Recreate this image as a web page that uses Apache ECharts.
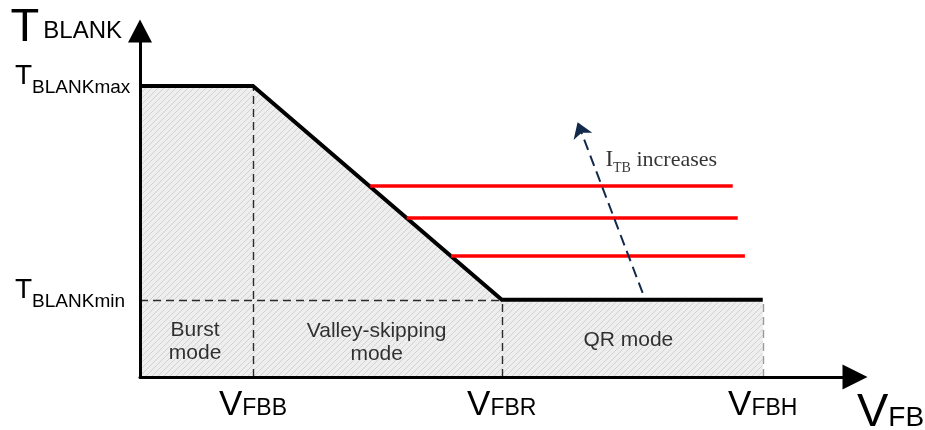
<!DOCTYPE html>
<html><head><meta charset="utf-8">
<script src="https://cdn.jsdelivr.net/npm/echarts@6/dist/echarts.min.js"></script>
<style>html,body{margin:0;padding:0;background:#fff}#c{width:925px;height:430px}</style>
</head><body><div id="c"></div>
<script>
// ---- data (schematic units: x 0..100, y 0..100) ----
const xTickValues = [15.8, 50.6, 87.1];          // VFBB, VFBR, VFBH
const xTickSubs = ['FBB', 'FBR', 'FBH'];
const yTickValues = [22.3, 84.1];                // TBLANKmin, TBLANKmax
const yTickSubs = ['BLANKmin', 'BLANKmax'];
const curveX = [0, 15.8, 50.6, 87.1];
const curveY = [84.1, 84.1, 22.3, 22.3];
const guideX1 = [15.8, 50.6, 0, 87.1];
const guideY1 = [0, 0, 22.3, 0];
const guideX2 = [15.8, 50.6, 50.6, 87.1];
const guideY2 = [84.1, 22.3, 22.3, 22.3];
const redY = [55.2, 46.0, 35.0];
const redStartX = [32.2, 37.3, 43.5];
const redEndX = [82.9, 83.6, 84.6];
const arrowFrom = [70.3, 24.3];
const arrowTo = [61.2, 73.6];
const regionNames = ['Burst\nmode', 'Valley-skipping\nmode', 'QR mode'];
const regionX = [7.7, 33.1, 68.3];
const regionY = [10.3, 9.8, 10.5];
const noteParts = ['I', 'TB', ' increases'];
const notePos = [72.9, 62.7];
const yAxisTitle = ['T', 'BLANK'];
const xAxisTitle = ['V', 'FB'];

// ---- hatch pattern ----
const pc = document.createElement('canvas');
pc.width = 6; pc.height = 6;
const g = pc.getContext('2d');
g.fillStyle = '#eeeeee'; g.fillRect(0, 0, 6, 6);
g.strokeStyle = '#d2d2d2'; g.lineWidth = 1;
g.beginPath();
g.moveTo(0, 6); g.lineTo(6, 0);
g.moveTo(-3, 3); g.lineTo(3, -3);
g.moveTo(3, 9); g.lineTo(9, 3);
g.stroke();

const SANS = "'Liberation Sans', Arial, sans-serif";
const NARROW = "'Liberation Sans Narrow', 'Arial Narrow', 'Liberation Sans', Arial, sans-serif";
const SERIF = "'Liberation Serif', 'Times New Roman', serif";

const curve = curveX.map((x, i) => [x, curveY[i]]);
const guides = guideX1.map((x, i) => {
  const d = { coords: [[x, guideY1[i]], [guideX2[i], guideY2[i]]] };
  if (i === 3) d.lineStyle = { color: '#9a9a9a' };
  return d;
});
const reds = redY.map((y, i) => ({ coords: [[redStartX[i], y], [redEndX[i], y]] }));

const chart = echarts.init(document.getElementById('c'), null, { renderer: 'canvas' });
chart.setOption({
  animation: false,
  backgroundColor: '#fff',
  grid: { left: 140, right: 70, top: 31, bottom: 53, containLabel: false, outerBoundsMode: 'none' },
  xAxis: {
    type: 'value', min: 0, max: 100, z: 10,
    axisLine: { show: true, onZero: false, lineStyle: { color: '#000', width: 3 },
      symbol: ['none', 'triangle'], symbolSize: [25, 25] },
    axisTick: { show: false }, splitLine: { show: false },
    axisLabel: {
      customValues: xTickValues, margin: 10,
      formatter: v => '{v|V}{f|' + xTickSubs[xTickValues.indexOf(v)] + '}',
      rich: {
        v: { fontSize: 35, lineHeight: 36, fontFamily: SANS, color: '#000', verticalAlign: 'middle' },
        f: { fontSize: 23, lineHeight: 36, fontFamily: SANS, color: '#000', verticalAlign: 'middle', padding: [7, 0, 0, 0] }
      }
    },
    name: '{v|' + xAxisTitle[0] + '}{f|' + xAxisTitle[1] + '}',
    nameLocation: 'end', nameGap: 2,
    nameTextStyle: {
      align: 'left', verticalAlign: 'top', padding: [12, 0, 0, 0],
      rich: {
        v: { fontSize: 47, lineHeight: 48, fontFamily: NARROW, color: '#000', verticalAlign: 'middle' },
        f: { fontSize: 28, lineHeight: 48, fontFamily: SANS, color: '#000', verticalAlign: 'middle', padding: [11, 0, 0, 0] }
      }
    }
  },
  yAxis: {
    type: 'value', min: 0, max: 100, z: 10,
    axisLine: { show: true, onZero: false, lineStyle: { color: '#000', width: 3 },
      symbol: ['none', 'triangle'], symbolSize: [24, 23] },
    axisTick: { show: false }, splitLine: { show: false },
    axisLabel: {
      customValues: yTickValues, margin: 125, align: 'left', padding: [0, 0, 19, 0],
      formatter: v => '{t|T}{s|' + yTickSubs[yTickValues.indexOf(v)] + '}',
      rich: {
        t: { fontSize: 28, lineHeight: 30, fontFamily: SANS, color: '#000', verticalAlign: 'middle' },
        s: { fontSize: 19, lineHeight: 30, fontFamily: SANS, color: '#000', verticalAlign: 'middle', padding: [22, 0, 0, 0] }
      }
    },
    name: '{t|' + yAxisTitle[0] + '}{s|' + yAxisTitle[1] + '}',
    nameLocation: 'end', nameGap: 3,
    nameTextStyle: {
      align: 'right', verticalAlign: 'middle', padding: [0, 18, 0, 0],
      rich: {
        t: { fontSize: 47, lineHeight: 48, fontFamily: NARROW, color: '#000', verticalAlign: 'middle', padding: [0, 4, 0, 0] },
        s: { fontSize: 24, lineHeight: 48, fontFamily: SANS, color: '#000', verticalAlign: 'middle', padding: [6, 0, 0, 0] }
      }
    }
  },
  series: [
    { type: 'line', data: curve, symbol: 'none', z: 1, silent: true,
      lineStyle: { width: 0, opacity: 0 },
      areaStyle: { color: { image: pc, repeat: 'repeat' }, opacity: 1 } },
    { type: 'lines', coordinateSystem: 'cartesian2d', z: 2, silent: true,
      data: guides,
      lineStyle: { color: '#2a2a2a', width: 1.4, type: [8, 5], opacity: 1 } },
    { type: 'line', data: curve, symbol: 'none', z: 3, silent: true,
      lineStyle: { color: '#000', width: 4, join: 'miter' } },
    { type: 'lines', coordinateSystem: 'cartesian2d', z: 4, silent: true,
      data: reds,
      lineStyle: { color: '#ff0000', width: 3.5, opacity: 1 } },
    { type: 'lines', coordinateSystem: 'cartesian2d', z: 5, silent: true,
      data: [{ coords: [arrowFrom, arrowTo] }],
      symbol: ['none', 'arrow'], symbolSize: 15,
      lineStyle: { color: '#13294b', width: 2, type: [11, 6], opacity: 1 } },
    { type: 'scatter', z: 6, silent: true, symbolSize: 1,
      itemStyle: { color: 'rgba(0,0,0,0)' },
      data: regionNames.map((n, i) => ({ value: [regionX[i], regionY[i]], name: n })),
      label: { show: true, position: 'inside', formatter: p => p.name,
        fontSize: 21, lineHeight: 23, fontFamily: SANS, color: '#000', align: 'center' } },
    { type: 'scatter', z: 6, silent: true, symbolSize: 1,
      itemStyle: { color: 'rgba(0,0,0,0)' },
      data: [{ value: notePos }],
      label: { show: true, position: 'inside',
        formatter: () => '{i|' + noteParts[0] + '}{s|' + noteParts[1] + '}{r|' + noteParts[2] + '}',
        rich: {
          i: { fontSize: 23, lineHeight: 24, fontFamily: SERIF, color: '#000', verticalAlign: 'middle' },
          s: { fontSize: 14, lineHeight: 24, fontFamily: SERIF, color: '#000', verticalAlign: 'middle', padding: [16, 0, 0, 0] },
          r: { fontSize: 22, lineHeight: 24, fontFamily: SERIF, color: '#000', verticalAlign: 'middle' }
        } } }
  ]
});
</script></body></html>
